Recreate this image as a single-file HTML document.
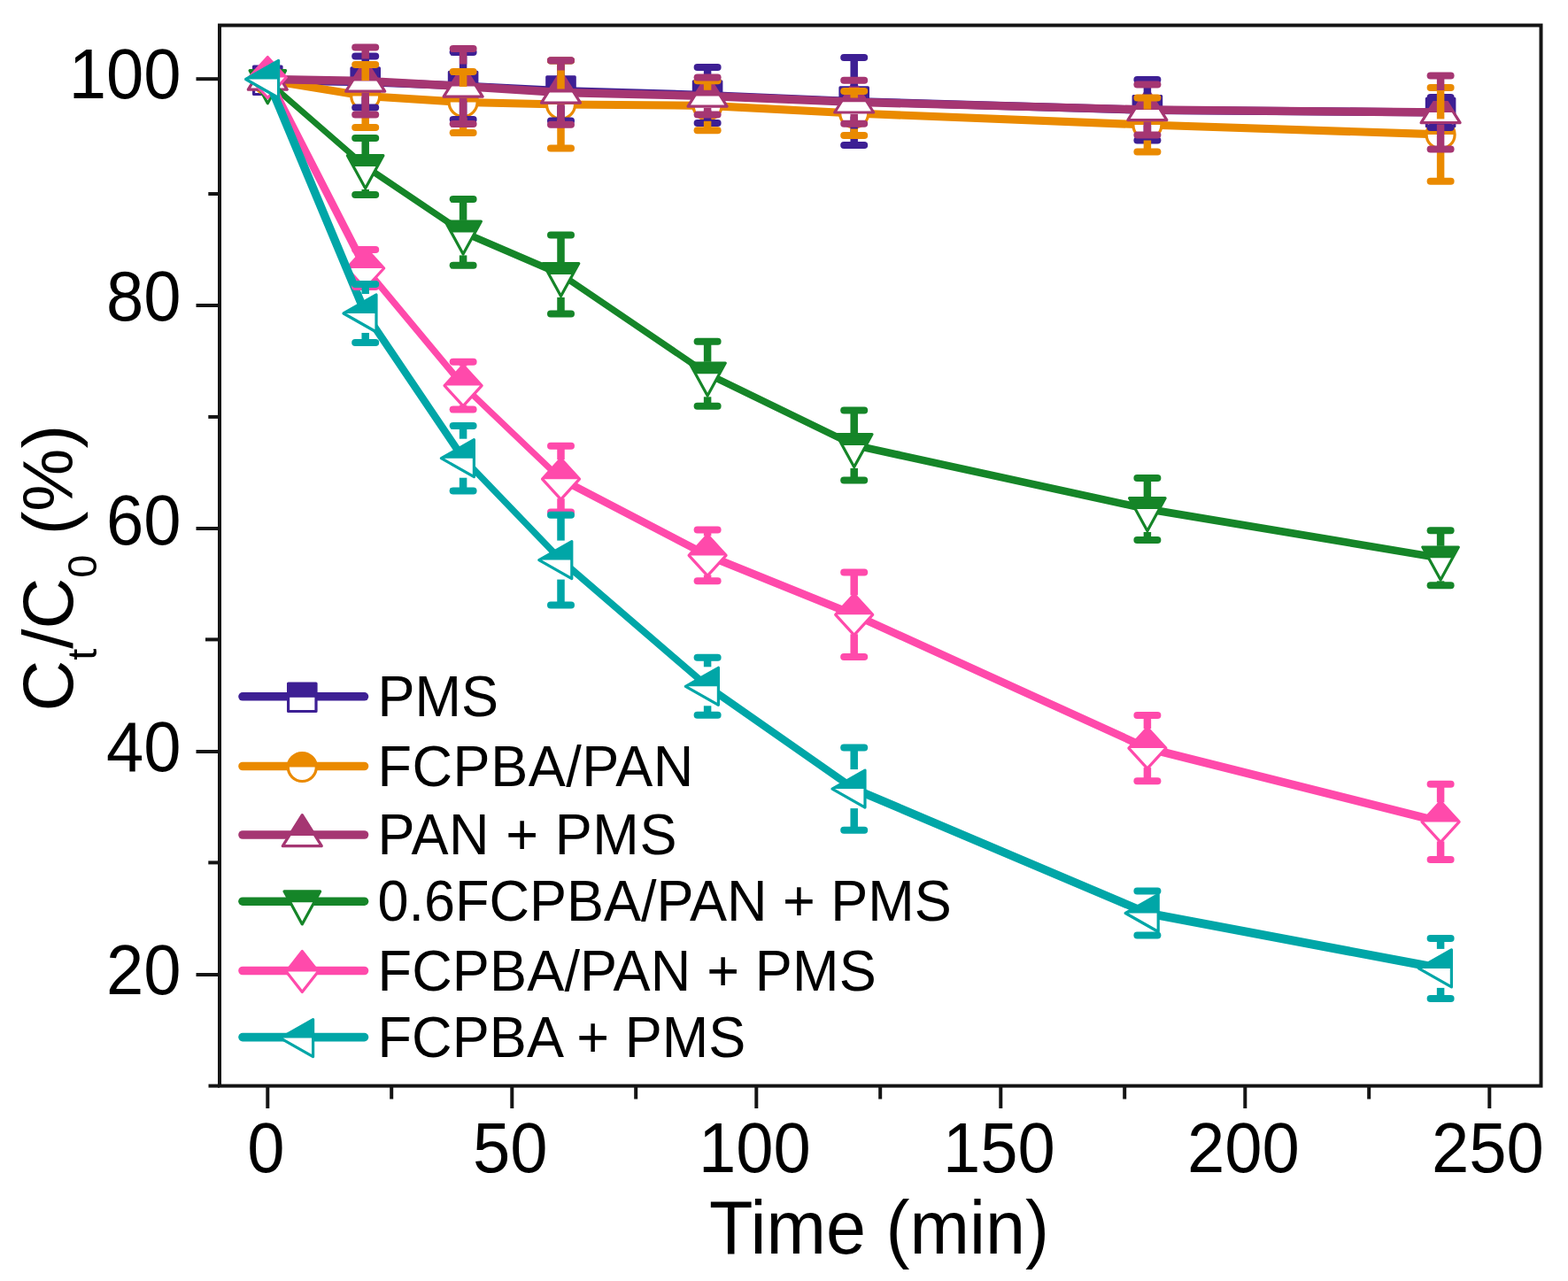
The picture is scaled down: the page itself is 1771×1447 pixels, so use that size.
<!DOCTYPE html>
<html><head><meta charset="utf-8"><title>Ct/C0 vs Time</title><style>html,body{margin:0;padding:0;background:#fff;width:1771px;height:1447px;overflow:hidden}svg{display:block}</style></head><body>
<svg width="1771" height="1447" viewBox="0 0 1771 1447" font-family="'Liberation Sans', Arial, sans-serif" fill="#000">
<rect width="1771" height="1447" fill="#fff"/>
<rect x="248.0" y="28.6" width="1492.5" height="1198.0" fill="none" stroke="#141414" stroke-width="4.0"/>
<line x1="221.5" y1="89.2" x2="248.0" y2="89.2" stroke="#141414" stroke-width="4.0"/>
<line x1="221.5" y1="345.0" x2="248.0" y2="345.0" stroke="#141414" stroke-width="4.0"/>
<line x1="221.5" y1="597.0" x2="248.0" y2="597.0" stroke="#141414" stroke-width="4.0"/>
<line x1="221.5" y1="849.0" x2="248.0" y2="849.0" stroke="#141414" stroke-width="4.0"/>
<line x1="221.5" y1="1101.0" x2="248.0" y2="1101.0" stroke="#141414" stroke-width="4.0"/>
<line x1="235.3" y1="219.0" x2="248.0" y2="219.0" stroke="#141414" stroke-width="4.0"/>
<line x1="235.3" y1="470.9" x2="248.0" y2="470.9" stroke="#141414" stroke-width="4.0"/>
<line x1="232.0" y1="722.4" x2="248.0" y2="722.4" stroke="#141414" stroke-width="4.0"/>
<line x1="235.3" y1="974.4" x2="248.0" y2="974.4" stroke="#141414" stroke-width="4.0"/>
<line x1="235.5" y1="1226.6" x2="248.0" y2="1226.6" stroke="#141414" stroke-width="4.0"/>
<line x1="302.3" y1="1226.6" x2="302.3" y2="1252" stroke="#141414" stroke-width="4.0"/>
<line x1="578.3" y1="1226.6" x2="578.3" y2="1252" stroke="#141414" stroke-width="4.0"/>
<line x1="854.3" y1="1226.6" x2="854.3" y2="1252" stroke="#141414" stroke-width="4.0"/>
<line x1="1130.3" y1="1226.6" x2="1130.3" y2="1252" stroke="#141414" stroke-width="4.0"/>
<line x1="1406.3" y1="1226.6" x2="1406.3" y2="1252" stroke="#141414" stroke-width="4.0"/>
<line x1="1682.3" y1="1226.6" x2="1682.3" y2="1252" stroke="#141414" stroke-width="4.0"/>
<line x1="442.2" y1="1226.6" x2="442.2" y2="1241.5" stroke="#141414" stroke-width="4.0"/>
<line x1="718.2" y1="1226.6" x2="718.2" y2="1241.5" stroke="#141414" stroke-width="4.0"/>
<line x1="994.2" y1="1226.6" x2="994.2" y2="1241.5" stroke="#141414" stroke-width="4.0"/>
<line x1="1270.2" y1="1226.6" x2="1270.2" y2="1241.5" stroke="#141414" stroke-width="4.0"/>
<line x1="1546.2" y1="1226.6" x2="1546.2" y2="1241.5" stroke="#141414" stroke-width="4.0"/>
<path d="M302.3,86.2 L412.7,88.0 L412.7,97.2 L302.3,95.4 Z M412.7,88.0 L523.1,92.4 L523.1,101.6 L412.7,97.2 Z M523.1,92.4 L633.5,97.9 L633.5,107.1 L523.1,101.6 Z M633.5,97.9 L799.1,102.9 L799.1,112.1 L633.5,107.1 Z M799.1,102.9 L964.7,110.0 L964.7,119.2 L799.1,112.1 Z M964.7,110.0 L1295.9,119.7 L1295.9,128.9 L964.7,119.2 Z M1295.9,119.7 L1627.1,122.4 L1627.1,131.6 L1295.9,128.9 Z" fill="#3d1f94"/>
<polygon points="286.6,75.1 318.0,75.1 318.0,106.5 286.6,106.5" fill="#fff"/><polygon points="286.6,75.1 318.0,75.1 318.0,90.8 286.6,90.8" fill="#3d1f94"/><polygon points="286.6,75.1 318.0,75.1 318.0,106.5 286.6,106.5" fill="none" stroke="#3d1f94" stroke-width="3.2" stroke-linejoin="round"/>
<polygon points="397.0,76.9 428.4,76.9 428.4,108.3 397.0,108.3" fill="#fff"/><polygon points="397.0,76.9 428.4,76.9 428.4,92.6 397.0,92.6" fill="#3d1f94"/><polygon points="397.0,76.9 428.4,76.9 428.4,108.3 397.0,108.3" fill="none" stroke="#3d1f94" stroke-width="3.2" stroke-linejoin="round"/>
<polygon points="507.4,81.3 538.8,81.3 538.8,112.7 507.4,112.7" fill="#fff"/><polygon points="507.4,81.3 538.8,81.3 538.8,97.0 507.4,97.0" fill="#3d1f94"/><polygon points="507.4,81.3 538.8,81.3 538.8,112.7 507.4,112.7" fill="none" stroke="#3d1f94" stroke-width="3.2" stroke-linejoin="round"/>
<polygon points="617.8,86.8 649.2,86.8 649.2,118.2 617.8,118.2" fill="#fff"/><polygon points="617.8,86.8 649.2,86.8 649.2,102.5 617.8,102.5" fill="#3d1f94"/><polygon points="617.8,86.8 649.2,86.8 649.2,118.2 617.8,118.2" fill="none" stroke="#3d1f94" stroke-width="3.2" stroke-linejoin="round"/>
<polygon points="783.4,91.8 814.8,91.8 814.8,123.2 783.4,123.2" fill="#fff"/><polygon points="783.4,91.8 814.8,91.8 814.8,107.5 783.4,107.5" fill="#3d1f94"/><polygon points="783.4,91.8 814.8,91.8 814.8,123.2 783.4,123.2" fill="none" stroke="#3d1f94" stroke-width="3.2" stroke-linejoin="round"/>
<polygon points="949.0,98.9 980.4,98.9 980.4,130.3 949.0,130.3" fill="#fff"/><polygon points="949.0,98.9 980.4,98.9 980.4,114.6 949.0,114.6" fill="#3d1f94"/><polygon points="949.0,98.9 980.4,98.9 980.4,130.3 949.0,130.3" fill="none" stroke="#3d1f94" stroke-width="3.2" stroke-linejoin="round"/>
<polygon points="1280.2,108.6 1311.6,108.6 1311.6,140.0 1280.2,140.0" fill="#fff"/><polygon points="1280.2,108.6 1311.6,108.6 1311.6,124.3 1280.2,124.3" fill="#3d1f94"/><polygon points="1280.2,108.6 1311.6,108.6 1311.6,140.0 1280.2,140.0" fill="none" stroke="#3d1f94" stroke-width="3.2" stroke-linejoin="round"/>
<polygon points="1611.4,111.3 1642.8,111.3 1642.8,142.7 1611.4,142.7" fill="#fff"/><polygon points="1611.4,111.3 1642.8,111.3 1642.8,127.0 1611.4,127.0" fill="#3d1f94"/><polygon points="1611.4,111.3 1642.8,111.3 1642.8,142.7 1611.4,142.7" fill="none" stroke="#3d1f94" stroke-width="3.2" stroke-linejoin="round"/>
<path d="M302.3,85.9 L412.7,103.9 L412.7,113.1 L302.3,95.1 Z M412.7,103.9 L523.1,110.9 L523.1,120.1 L412.7,113.1 Z M523.1,110.9 L633.5,113.4 L633.5,122.6 L523.1,120.1 Z M633.5,113.4 L799.1,114.7 L799.1,123.9 L633.5,122.6 Z M799.1,114.7 L964.7,123.4 L964.7,132.6 L799.1,123.9 Z M964.7,123.4 L1295.9,136.4 L1295.9,145.6 L964.7,132.6 Z M1295.9,136.4 L1627.1,147.3 L1627.1,156.5 L1295.9,145.6 Z" fill="#ea8a00"/>
<circle cx="302.3" cy="90.5" r="16" fill="#fff" stroke="none"/><path d="M286.0,90.5 A16,16 0 0 1 318.6,90.5 Z" fill="#ea8a00"/><circle cx="302.3" cy="90.5" r="16" fill="none" stroke="#ea8a00" stroke-width="3.2"/>
<circle cx="412.7" cy="108.5" r="16" fill="#fff" stroke="none"/><path d="M396.4,108.5 A16,16 0 0 1 429.0,108.5 Z" fill="#ea8a00"/><circle cx="412.7" cy="108.5" r="16" fill="none" stroke="#ea8a00" stroke-width="3.2"/>
<circle cx="523.1" cy="115.5" r="16" fill="#fff" stroke="none"/><path d="M506.8,115.5 A16,16 0 0 1 539.4,115.5 Z" fill="#ea8a00"/><circle cx="523.1" cy="115.5" r="16" fill="none" stroke="#ea8a00" stroke-width="3.2"/>
<circle cx="633.5" cy="118.0" r="16" fill="#fff" stroke="none"/><path d="M617.2,118.0 A16,16 0 0 1 649.8,118.0 Z" fill="#ea8a00"/><circle cx="633.5" cy="118.0" r="16" fill="none" stroke="#ea8a00" stroke-width="3.2"/>
<circle cx="799.1" cy="119.3" r="16" fill="#fff" stroke="none"/><path d="M782.8,119.3 A16,16 0 0 1 815.4,119.3 Z" fill="#ea8a00"/><circle cx="799.1" cy="119.3" r="16" fill="none" stroke="#ea8a00" stroke-width="3.2"/>
<circle cx="964.7" cy="128.0" r="16" fill="#fff" stroke="none"/><path d="M948.4,128.0 A16,16 0 0 1 981.0,128.0 Z" fill="#ea8a00"/><circle cx="964.7" cy="128.0" r="16" fill="none" stroke="#ea8a00" stroke-width="3.2"/>
<circle cx="1295.9" cy="141.0" r="16" fill="#fff" stroke="none"/><path d="M1279.6,141.0 A16,16 0 0 1 1312.2,141.0 Z" fill="#ea8a00"/><circle cx="1295.9" cy="141.0" r="16" fill="none" stroke="#ea8a00" stroke-width="3.2"/>
<circle cx="1627.1" cy="151.9" r="16" fill="#fff" stroke="none"/><path d="M1610.8,151.9 A16,16 0 0 1 1643.4,151.9 Z" fill="#ea8a00"/><circle cx="1627.1" cy="151.9" r="16" fill="none" stroke="#ea8a00" stroke-width="3.2"/>
<path d="M302.3,84.8 L412.7,86.8 L412.7,96.2 L302.3,94.2 Z M412.7,86.8 L523.1,92.8 L523.1,102.2 L412.7,96.2 Z M523.1,92.8 L633.5,99.8 L633.5,109.2 L523.1,102.2 Z M633.5,99.8 L799.1,103.8 L799.1,113.2 L633.5,109.2 Z M799.1,103.8 L964.7,110.6 L964.7,120.0 L799.1,113.2 Z M964.7,110.6 L1295.9,119.3 L1295.9,128.7 L964.7,120.0 Z M1295.9,119.3 L1627.1,122.3 L1627.1,131.7 L1295.9,128.7 Z" fill="#a53672"/>
<polygon points="302.3,66.2 324.3,101.2 280.3,101.2" fill="#fff"/><polygon points="302.3,66.2 317.0,89.5 287.6,89.5" fill="#a53672"/><polygon points="302.3,66.2 324.3,101.2 280.3,101.2" fill="none" stroke="#a53672" stroke-width="3.2" stroke-linejoin="round"/>
<polygon points="412.7,68.2 434.7,103.2 390.7,103.2" fill="#fff"/><polygon points="412.7,68.2 427.4,91.5 398.0,91.5" fill="#a53672"/><polygon points="412.7,68.2 434.7,103.2 390.7,103.2" fill="none" stroke="#a53672" stroke-width="3.2" stroke-linejoin="round"/>
<polygon points="523.1,74.2 545.1,109.2 501.1,109.2" fill="#fff"/><polygon points="523.1,74.2 537.8,97.5 508.4,97.5" fill="#a53672"/><polygon points="523.1,74.2 545.1,109.2 501.1,109.2" fill="none" stroke="#a53672" stroke-width="3.2" stroke-linejoin="round"/>
<polygon points="633.5,81.2 655.5,116.2 611.5,116.2" fill="#fff"/><polygon points="633.5,81.2 648.2,104.5 618.8,104.5" fill="#a53672"/><polygon points="633.5,81.2 655.5,116.2 611.5,116.2" fill="none" stroke="#a53672" stroke-width="3.2" stroke-linejoin="round"/>
<polygon points="799.1,85.2 821.1,120.2 777.1,120.2" fill="#fff"/><polygon points="799.1,85.2 813.8,108.5 784.4,108.5" fill="#a53672"/><polygon points="799.1,85.2 821.1,120.2 777.1,120.2" fill="none" stroke="#a53672" stroke-width="3.2" stroke-linejoin="round"/>
<polygon points="964.7,92.0 986.7,127.0 942.7,127.0" fill="#fff"/><polygon points="964.7,92.0 979.4,115.3 950.0,115.3" fill="#a53672"/><polygon points="964.7,92.0 986.7,127.0 942.7,127.0" fill="none" stroke="#a53672" stroke-width="3.2" stroke-linejoin="round"/>
<polygon points="1295.9,100.7 1317.9,135.7 1273.9,135.7" fill="#fff"/><polygon points="1295.9,100.7 1310.6,124.0 1281.2,124.0" fill="#a53672"/><polygon points="1295.9,100.7 1317.9,135.7 1273.9,135.7" fill="none" stroke="#a53672" stroke-width="3.2" stroke-linejoin="round"/>
<polygon points="1627.1,103.7 1649.1,138.7 1605.1,138.7" fill="#fff"/><polygon points="1627.1,103.7 1641.8,127.0 1612.4,127.0" fill="#a53672"/><polygon points="1627.1,103.7 1649.1,138.7 1605.1,138.7" fill="none" stroke="#a53672" stroke-width="3.2" stroke-linejoin="round"/>
<path d="M302.3,87.6 L412.7,183.6 L412.7,192.4 L302.3,96.4 Z M412.7,183.6 L523.1,258.0 L523.1,266.8 L412.7,192.4 Z M523.1,258.0 L633.5,305.5 L633.5,314.3 L523.1,266.8 Z M633.5,305.5 L799.1,417.9 L799.1,426.7 L633.5,314.3 Z M799.1,417.9 L964.7,498.5 L964.7,507.3 L799.1,426.7 Z M964.7,498.5 L1295.9,570.6 L1295.9,579.4 L964.7,507.3 Z M1295.9,570.6 L1627.1,625.9 L1627.1,634.7 L1295.9,579.4 Z" fill="#158528"/>
<polygon points="282.1,79.7 322.6,79.7 302.3,116.7" fill="#fff"/><polygon points="282.1,79.7 322.6,79.7 315.8,92.0 288.8,92.0" fill="#158528"/><polygon points="282.1,79.7 322.6,79.7 302.3,116.7" fill="none" stroke="#158528" stroke-width="3.2" stroke-linejoin="round"/>
<polygon points="392.4,175.7 432.9,175.7 412.7,212.7" fill="#fff"/><polygon points="392.4,175.7 432.9,175.7 426.2,188.0 399.2,188.0" fill="#158528"/><polygon points="392.4,175.7 432.9,175.7 412.7,212.7" fill="none" stroke="#158528" stroke-width="3.2" stroke-linejoin="round"/>
<polygon points="502.9,250.1 543.4,250.1 523.1,287.1" fill="#fff"/><polygon points="502.9,250.1 543.4,250.1 536.6,262.4 509.6,262.4" fill="#158528"/><polygon points="502.9,250.1 543.4,250.1 523.1,287.1" fill="none" stroke="#158528" stroke-width="3.2" stroke-linejoin="round"/>
<polygon points="613.2,297.6 653.8,297.6 633.5,334.6" fill="#fff"/><polygon points="613.2,297.6 653.8,297.6 647.0,309.9 620.0,309.9" fill="#158528"/><polygon points="613.2,297.6 653.8,297.6 633.5,334.6" fill="none" stroke="#158528" stroke-width="3.2" stroke-linejoin="round"/>
<polygon points="778.8,410.0 819.3,410.0 799.1,447.0" fill="#fff"/><polygon points="778.8,410.0 819.3,410.0 812.6,422.3 785.6,422.3" fill="#158528"/><polygon points="778.8,410.0 819.3,410.0 799.1,447.0" fill="none" stroke="#158528" stroke-width="3.2" stroke-linejoin="round"/>
<polygon points="944.5,490.6 985.0,490.6 964.7,527.6" fill="#fff"/><polygon points="944.5,490.6 985.0,490.6 978.2,502.9 951.2,502.9" fill="#158528"/><polygon points="944.5,490.6 985.0,490.6 964.7,527.6" fill="none" stroke="#158528" stroke-width="3.2" stroke-linejoin="round"/>
<polygon points="1275.6,562.7 1316.1,562.7 1295.9,599.7" fill="#fff"/><polygon points="1275.6,562.7 1316.1,562.7 1309.4,575.0 1282.4,575.0" fill="#158528"/><polygon points="1275.6,562.7 1316.1,562.7 1295.9,599.7" fill="none" stroke="#158528" stroke-width="3.2" stroke-linejoin="round"/>
<polygon points="1606.8,618.0 1647.3,618.0 1627.1,655.0" fill="#fff"/><polygon points="1606.8,618.0 1647.3,618.0 1640.6,630.3 1613.6,630.3" fill="#158528"/><polygon points="1606.8,618.0 1647.3,618.0 1627.1,655.0" fill="none" stroke="#158528" stroke-width="3.2" stroke-linejoin="round"/>
<path d="M297.4,87.5 L407.8,303.0 L417.6,303.0 L307.2,87.5 Z M407.8,303.0 L518.2,435.6 L528.0,435.6 L417.6,303.0 Z M523.1,430.7 L633.5,536.3 L633.5,546.1 L523.1,440.5 Z M633.5,536.3 L799.1,622.5 L799.1,632.3 L633.5,546.1 Z M799.1,622.5 L964.7,689.4 L964.7,699.2 L799.1,632.3 Z M964.7,689.4 L1295.9,840.2 L1295.9,850.0 L964.7,699.2 Z M1295.9,840.2 L1627.1,923.5 L1627.1,933.3 L1295.9,850.0 Z" fill="#ff4aab"/>
<polygon points="302.3,64.5 323.3,87.5 302.3,110.5 281.3,87.5" fill="#fff"/><polygon points="302.3,64.5 323.3,87.5 323.3,87.5 281.3,87.5 281.3,87.5" fill="#ff4aab"/><polygon points="302.3,64.5 323.3,87.5 302.3,110.5 281.3,87.5" fill="none" stroke="#ff4aab" stroke-width="3.2" stroke-linejoin="round"/>
<polygon points="412.7,280.0 433.7,303.0 412.7,326.0 391.7,303.0" fill="#fff"/><polygon points="412.7,280.0 433.7,303.0 433.7,303.0 391.7,303.0 391.7,303.0" fill="#ff4aab"/><polygon points="412.7,280.0 433.7,303.0 412.7,326.0 391.7,303.0" fill="none" stroke="#ff4aab" stroke-width="3.2" stroke-linejoin="round"/>
<polygon points="523.1,412.6 544.1,435.6 523.1,458.6 502.1,435.6" fill="#fff"/><polygon points="523.1,412.6 544.1,435.6 544.1,435.6 502.1,435.6 502.1,435.6" fill="#ff4aab"/><polygon points="523.1,412.6 544.1,435.6 523.1,458.6 502.1,435.6" fill="none" stroke="#ff4aab" stroke-width="3.2" stroke-linejoin="round"/>
<polygon points="633.5,518.2 654.5,541.2 633.5,564.2 612.5,541.2" fill="#fff"/><polygon points="633.5,518.2 654.5,541.2 654.5,541.2 612.5,541.2 612.5,541.2" fill="#ff4aab"/><polygon points="633.5,518.2 654.5,541.2 633.5,564.2 612.5,541.2" fill="none" stroke="#ff4aab" stroke-width="3.2" stroke-linejoin="round"/>
<polygon points="799.1,604.4 820.1,627.4 799.1,650.4 778.1,627.4" fill="#fff"/><polygon points="799.1,604.4 820.1,627.4 820.1,627.4 778.1,627.4 778.1,627.4" fill="#ff4aab"/><polygon points="799.1,604.4 820.1,627.4 799.1,650.4 778.1,627.4" fill="none" stroke="#ff4aab" stroke-width="3.2" stroke-linejoin="round"/>
<polygon points="964.7,671.3 985.7,694.3 964.7,717.3 943.7,694.3" fill="#fff"/><polygon points="964.7,671.3 985.7,694.3 985.7,694.3 943.7,694.3 943.7,694.3" fill="#ff4aab"/><polygon points="964.7,671.3 985.7,694.3 964.7,717.3 943.7,694.3" fill="none" stroke="#ff4aab" stroke-width="3.2" stroke-linejoin="round"/>
<polygon points="1295.9,822.1 1316.9,845.1 1295.9,868.1 1274.9,845.1" fill="#fff"/><polygon points="1295.9,822.1 1316.9,845.1 1316.9,845.1 1274.9,845.1 1274.9,845.1" fill="#ff4aab"/><polygon points="1295.9,822.1 1316.9,845.1 1295.9,868.1 1274.9,845.1" fill="none" stroke="#ff4aab" stroke-width="3.2" stroke-linejoin="round"/>
<polygon points="1627.1,905.4 1648.1,928.4 1627.1,951.4 1606.1,928.4" fill="#fff"/><polygon points="1627.1,905.4 1648.1,928.4 1648.1,928.4 1606.1,928.4 1606.1,928.4" fill="#ff4aab"/><polygon points="1627.1,905.4 1648.1,928.4 1627.1,951.4 1606.1,928.4" fill="none" stroke="#ff4aab" stroke-width="3.2" stroke-linejoin="round"/>
<path d="M297.2,89.5 L407.6,354.0 L417.8,354.0 L307.4,89.5 Z M407.6,354.0 L518.0,517.7 L528.2,517.7 L417.8,354.0 Z M518.0,517.7 L628.4,632.6 L638.6,632.6 L528.2,517.7 Z M633.5,627.5 L799.1,770.2 L799.1,780.4 L633.5,637.7 Z M799.1,770.2 L964.7,886.0 L964.7,896.2 L799.1,780.4 Z M964.7,886.0 L1295.9,1026.4 L1295.9,1036.6 L964.7,896.2 Z M1295.9,1026.4 L1627.1,1088.8 L1627.1,1099.0 L1295.9,1036.6 Z" fill="#00a6a7"/>
<polygon points="277.6,89.5 314.6,68.5 314.6,110.5" fill="#fff"/><polygon points="277.6,89.5 314.6,68.5 314.6,89.5 277.6,89.5" fill="#00a6a7"/><polygon points="277.6,89.5 314.6,68.5 314.6,110.5" fill="none" stroke="#00a6a7" stroke-width="3.2" stroke-linejoin="round"/>
<polygon points="388.0,354.0 425.0,333.0 425.0,375.0" fill="#fff"/><polygon points="388.0,354.0 425.0,333.0 425.0,354.0 388.0,354.0" fill="#00a6a7"/><polygon points="388.0,354.0 425.0,333.0 425.0,375.0" fill="none" stroke="#00a6a7" stroke-width="3.2" stroke-linejoin="round"/>
<polygon points="498.4,517.7 535.4,496.7 535.4,538.7" fill="#fff"/><polygon points="498.4,517.7 535.4,496.7 535.4,517.7 498.4,517.7" fill="#00a6a7"/><polygon points="498.4,517.7 535.4,496.7 535.4,538.7" fill="none" stroke="#00a6a7" stroke-width="3.2" stroke-linejoin="round"/>
<polygon points="608.8,632.6 645.8,611.6 645.8,653.6" fill="#fff"/><polygon points="608.8,632.6 645.8,611.6 645.8,632.6 608.8,632.6" fill="#00a6a7"/><polygon points="608.8,632.6 645.8,611.6 645.8,653.6" fill="none" stroke="#00a6a7" stroke-width="3.2" stroke-linejoin="round"/>
<polygon points="774.4,775.3 811.4,754.3 811.4,796.3" fill="#fff"/><polygon points="774.4,775.3 811.4,754.3 811.4,775.3 774.4,775.3" fill="#00a6a7"/><polygon points="774.4,775.3 811.4,754.3 811.4,796.3" fill="none" stroke="#00a6a7" stroke-width="3.2" stroke-linejoin="round"/>
<polygon points="940.0,891.1 977.0,870.1 977.0,912.1" fill="#fff"/><polygon points="940.0,891.1 977.0,870.1 977.0,891.1 940.0,891.1" fill="#00a6a7"/><polygon points="940.0,891.1 977.0,870.1 977.0,912.1" fill="none" stroke="#00a6a7" stroke-width="3.2" stroke-linejoin="round"/>
<polygon points="1271.2,1031.5 1308.2,1010.5 1308.2,1052.5" fill="#fff"/><polygon points="1271.2,1031.5 1308.2,1010.5 1308.2,1031.5 1271.2,1031.5" fill="#00a6a7"/><polygon points="1271.2,1031.5 1308.2,1010.5 1308.2,1052.5" fill="none" stroke="#00a6a7" stroke-width="3.2" stroke-linejoin="round"/>
<polygon points="1602.4,1093.9 1639.4,1072.9 1639.4,1114.9" fill="#fff"/><polygon points="1602.4,1093.9 1639.4,1072.9 1639.4,1093.9 1602.4,1093.9" fill="#00a6a7"/><polygon points="1602.4,1093.9 1639.4,1072.9 1639.4,1114.9" fill="none" stroke="#00a6a7" stroke-width="3.2" stroke-linejoin="round"/>

<line x1="412.7" y1="63.6" x2="412.7" y2="75.6" stroke="#3d1f94" stroke-width="8.5"/><line x1="412.7" y1="109.6" x2="412.7" y2="121.6" stroke="#3d1f94" stroke-width="8.5"/><line x1="401.2" y1="63.6" x2="424.2" y2="63.6" stroke="#3d1f94" stroke-width="8.0" stroke-linecap="round"/><line x1="401.2" y1="121.6" x2="424.2" y2="121.6" stroke="#3d1f94" stroke-width="8.0" stroke-linecap="round"/>
<line x1="523.1" y1="59.0" x2="523.1" y2="80.0" stroke="#3d1f94" stroke-width="8.5"/><line x1="523.1" y1="114.0" x2="523.1" y2="135.0" stroke="#3d1f94" stroke-width="8.5"/><line x1="511.6" y1="59.0" x2="534.6" y2="59.0" stroke="#3d1f94" stroke-width="8.0" stroke-linecap="round"/><line x1="511.6" y1="135.0" x2="534.6" y2="135.0" stroke="#3d1f94" stroke-width="8.0" stroke-linecap="round"/>
<line x1="633.5" y1="68.5" x2="633.5" y2="85.5" stroke="#3d1f94" stroke-width="8.5"/><line x1="633.5" y1="119.5" x2="633.5" y2="136.5" stroke="#3d1f94" stroke-width="8.5"/><line x1="622.0" y1="68.5" x2="645.0" y2="68.5" stroke="#3d1f94" stroke-width="8.0" stroke-linecap="round"/><line x1="622.0" y1="136.5" x2="645.0" y2="136.5" stroke="#3d1f94" stroke-width="8.0" stroke-linecap="round"/>
<line x1="799.1" y1="76.0" x2="799.1" y2="90.5" stroke="#3d1f94" stroke-width="8.5"/><line x1="799.1" y1="124.5" x2="799.1" y2="139.0" stroke="#3d1f94" stroke-width="8.5"/><line x1="787.6" y1="76.0" x2="810.6" y2="76.0" stroke="#3d1f94" stroke-width="8.0" stroke-linecap="round"/><line x1="787.6" y1="139.0" x2="810.6" y2="139.0" stroke="#3d1f94" stroke-width="8.0" stroke-linecap="round"/>
<line x1="964.7" y1="65.1" x2="964.7" y2="97.6" stroke="#3d1f94" stroke-width="8.5"/><line x1="964.7" y1="131.6" x2="964.7" y2="164.1" stroke="#3d1f94" stroke-width="8.5"/><line x1="953.2" y1="65.1" x2="976.2" y2="65.1" stroke="#3d1f94" stroke-width="8.0" stroke-linecap="round"/><line x1="953.2" y1="164.1" x2="976.2" y2="164.1" stroke="#3d1f94" stroke-width="8.0" stroke-linecap="round"/>
<line x1="1295.9" y1="90.0" x2="1295.9" y2="107.3" stroke="#3d1f94" stroke-width="8.5"/><line x1="1295.9" y1="141.3" x2="1295.9" y2="158.6" stroke="#3d1f94" stroke-width="8.5"/><line x1="1284.4" y1="90.0" x2="1307.4" y2="90.0" stroke="#3d1f94" stroke-width="8.0" stroke-linecap="round"/><line x1="1284.4" y1="158.6" x2="1307.4" y2="158.6" stroke="#3d1f94" stroke-width="8.0" stroke-linecap="round"/>
<line x1="1615.6" y1="110.0" x2="1638.6" y2="110.0" stroke="#3d1f94" stroke-width="8.0" stroke-linecap="round"/><line x1="1615.6" y1="144.0" x2="1638.6" y2="144.0" stroke="#3d1f94" stroke-width="8.0" stroke-linecap="round"/>

<line x1="412.7" y1="73.0" x2="412.7" y2="91.0" stroke="#ea8a00" stroke-width="8.5"/><line x1="412.7" y1="126.0" x2="412.7" y2="144.0" stroke="#ea8a00" stroke-width="8.5"/><line x1="401.2" y1="73.0" x2="424.2" y2="73.0" stroke="#ea8a00" stroke-width="8.0" stroke-linecap="round"/><line x1="401.2" y1="144.0" x2="424.2" y2="144.0" stroke="#ea8a00" stroke-width="8.0" stroke-linecap="round"/>
<line x1="523.1" y1="81.0" x2="523.1" y2="98.0" stroke="#ea8a00" stroke-width="8.5"/><line x1="523.1" y1="133.0" x2="523.1" y2="150.0" stroke="#ea8a00" stroke-width="8.5"/><line x1="511.6" y1="81.0" x2="534.6" y2="81.0" stroke="#ea8a00" stroke-width="8.0" stroke-linecap="round"/><line x1="511.6" y1="150.0" x2="534.6" y2="150.0" stroke="#ea8a00" stroke-width="8.0" stroke-linecap="round"/>
<line x1="633.5" y1="68.4" x2="633.5" y2="100.5" stroke="#ea8a00" stroke-width="8.5"/><line x1="633.5" y1="135.5" x2="633.5" y2="167.6" stroke="#ea8a00" stroke-width="8.5"/><line x1="622.0" y1="68.4" x2="645.0" y2="68.4" stroke="#ea8a00" stroke-width="8.0" stroke-linecap="round"/><line x1="622.0" y1="167.6" x2="645.0" y2="167.6" stroke="#ea8a00" stroke-width="8.0" stroke-linecap="round"/>
<line x1="799.1" y1="91.3" x2="799.1" y2="101.8" stroke="#ea8a00" stroke-width="8.5"/><line x1="799.1" y1="136.8" x2="799.1" y2="147.3" stroke="#ea8a00" stroke-width="8.5"/><line x1="787.6" y1="91.3" x2="810.6" y2="91.3" stroke="#ea8a00" stroke-width="8.0" stroke-linecap="round"/><line x1="787.6" y1="147.3" x2="810.6" y2="147.3" stroke="#ea8a00" stroke-width="8.0" stroke-linecap="round"/>
<line x1="964.7" y1="103.0" x2="964.7" y2="110.5" stroke="#ea8a00" stroke-width="8.5"/><line x1="964.7" y1="145.5" x2="964.7" y2="153.0" stroke="#ea8a00" stroke-width="8.5"/><line x1="953.2" y1="103.0" x2="976.2" y2="103.0" stroke="#ea8a00" stroke-width="8.0" stroke-linecap="round"/><line x1="953.2" y1="153.0" x2="976.2" y2="153.0" stroke="#ea8a00" stroke-width="8.0" stroke-linecap="round"/>
<line x1="1295.9" y1="110.5" x2="1295.9" y2="123.5" stroke="#ea8a00" stroke-width="8.5"/><line x1="1295.9" y1="158.5" x2="1295.9" y2="171.5" stroke="#ea8a00" stroke-width="8.5"/><line x1="1284.4" y1="110.5" x2="1307.4" y2="110.5" stroke="#ea8a00" stroke-width="8.0" stroke-linecap="round"/><line x1="1284.4" y1="171.5" x2="1307.4" y2="171.5" stroke="#ea8a00" stroke-width="8.0" stroke-linecap="round"/>
<line x1="1627.1" y1="99.0" x2="1627.1" y2="134.4" stroke="#ea8a00" stroke-width="8.5"/><line x1="1627.1" y1="169.4" x2="1627.1" y2="204.8" stroke="#ea8a00" stroke-width="8.5"/><line x1="1615.6" y1="99.0" x2="1638.6" y2="99.0" stroke="#ea8a00" stroke-width="8.0" stroke-linecap="round"/><line x1="1615.6" y1="204.8" x2="1638.6" y2="204.8" stroke="#ea8a00" stroke-width="8.0" stroke-linecap="round"/>

<line x1="412.7" y1="53.5" x2="412.7" y2="66.5" stroke="#a53672" stroke-width="8.5"/><line x1="412.7" y1="105.0" x2="412.7" y2="129.5" stroke="#a53672" stroke-width="8.5"/><line x1="401.2" y1="53.5" x2="424.2" y2="53.5" stroke="#a53672" stroke-width="8.0" stroke-linecap="round"/><line x1="401.2" y1="129.5" x2="424.2" y2="129.5" stroke="#a53672" stroke-width="8.0" stroke-linecap="round"/>
<line x1="523.1" y1="55.0" x2="523.1" y2="72.5" stroke="#a53672" stroke-width="8.5"/><line x1="523.1" y1="111.0" x2="523.1" y2="140.0" stroke="#a53672" stroke-width="8.5"/><line x1="511.6" y1="55.0" x2="534.6" y2="55.0" stroke="#a53672" stroke-width="8.0" stroke-linecap="round"/><line x1="511.6" y1="140.0" x2="534.6" y2="140.0" stroke="#a53672" stroke-width="8.0" stroke-linecap="round"/>
<line x1="633.5" y1="68.2" x2="633.5" y2="79.5" stroke="#a53672" stroke-width="8.5"/><line x1="633.5" y1="118.0" x2="633.5" y2="140.8" stroke="#a53672" stroke-width="8.5"/><line x1="622.0" y1="68.2" x2="645.0" y2="68.2" stroke="#a53672" stroke-width="8.0" stroke-linecap="round"/><line x1="622.0" y1="140.8" x2="645.0" y2="140.8" stroke="#a53672" stroke-width="8.0" stroke-linecap="round"/>
<line x1="799.1" y1="122.0" x2="799.1" y2="129.5" stroke="#a53672" stroke-width="8.5"/><line x1="787.6" y1="87.5" x2="810.6" y2="87.5" stroke="#a53672" stroke-width="8.0" stroke-linecap="round"/><line x1="787.6" y1="129.5" x2="810.6" y2="129.5" stroke="#a53672" stroke-width="8.0" stroke-linecap="round"/>
<line x1="964.7" y1="128.8" x2="964.7" y2="139.8" stroke="#a53672" stroke-width="8.5"/><line x1="953.2" y1="90.8" x2="976.2" y2="90.8" stroke="#a53672" stroke-width="8.0" stroke-linecap="round"/><line x1="953.2" y1="139.8" x2="976.2" y2="139.8" stroke="#a53672" stroke-width="8.0" stroke-linecap="round"/>
<line x1="1295.9" y1="95.5" x2="1295.9" y2="99.0" stroke="#a53672" stroke-width="8.5"/><line x1="1295.9" y1="137.5" x2="1295.9" y2="152.5" stroke="#a53672" stroke-width="8.5"/><line x1="1284.4" y1="95.5" x2="1307.4" y2="95.5" stroke="#a53672" stroke-width="8.0" stroke-linecap="round"/><line x1="1284.4" y1="152.5" x2="1307.4" y2="152.5" stroke="#a53672" stroke-width="8.0" stroke-linecap="round"/>
<line x1="1627.1" y1="85.5" x2="1627.1" y2="102.0" stroke="#a53672" stroke-width="8.5"/><line x1="1627.1" y1="140.5" x2="1627.1" y2="168.5" stroke="#a53672" stroke-width="8.5"/><line x1="1615.6" y1="85.5" x2="1638.6" y2="85.5" stroke="#a53672" stroke-width="8.0" stroke-linecap="round"/><line x1="1615.6" y1="168.5" x2="1638.6" y2="168.5" stroke="#a53672" stroke-width="8.0" stroke-linecap="round"/>

<line x1="412.7" y1="156.0" x2="412.7" y2="174.5" stroke="#158528" stroke-width="8.5"/><line x1="412.7" y1="214.0" x2="412.7" y2="220.0" stroke="#158528" stroke-width="8.5"/><line x1="401.2" y1="156.0" x2="424.2" y2="156.0" stroke="#158528" stroke-width="8.0" stroke-linecap="round"/><line x1="401.2" y1="220.0" x2="424.2" y2="220.0" stroke="#158528" stroke-width="8.0" stroke-linecap="round"/>
<line x1="523.1" y1="225.0" x2="523.1" y2="248.9" stroke="#158528" stroke-width="8.5"/><line x1="523.1" y1="288.4" x2="523.1" y2="299.8" stroke="#158528" stroke-width="8.5"/><line x1="511.6" y1="225.0" x2="534.6" y2="225.0" stroke="#158528" stroke-width="8.0" stroke-linecap="round"/><line x1="511.6" y1="299.8" x2="534.6" y2="299.8" stroke="#158528" stroke-width="8.0" stroke-linecap="round"/>
<line x1="633.5" y1="265.4" x2="633.5" y2="296.4" stroke="#158528" stroke-width="8.5"/><line x1="633.5" y1="335.9" x2="633.5" y2="354.4" stroke="#158528" stroke-width="8.5"/><line x1="622.0" y1="265.4" x2="645.0" y2="265.4" stroke="#158528" stroke-width="8.0" stroke-linecap="round"/><line x1="622.0" y1="354.4" x2="645.0" y2="354.4" stroke="#158528" stroke-width="8.0" stroke-linecap="round"/>
<line x1="799.1" y1="385.8" x2="799.1" y2="408.8" stroke="#158528" stroke-width="8.5"/><line x1="799.1" y1="448.3" x2="799.1" y2="458.8" stroke="#158528" stroke-width="8.5"/><line x1="787.6" y1="385.8" x2="810.6" y2="385.8" stroke="#158528" stroke-width="8.0" stroke-linecap="round"/><line x1="787.6" y1="458.8" x2="810.6" y2="458.8" stroke="#158528" stroke-width="8.0" stroke-linecap="round"/>
<line x1="964.7" y1="463.4" x2="964.7" y2="489.4" stroke="#158528" stroke-width="8.5"/><line x1="964.7" y1="528.9" x2="964.7" y2="542.4" stroke="#158528" stroke-width="8.5"/><line x1="953.2" y1="463.4" x2="976.2" y2="463.4" stroke="#158528" stroke-width="8.0" stroke-linecap="round"/><line x1="953.2" y1="542.4" x2="976.2" y2="542.4" stroke="#158528" stroke-width="8.0" stroke-linecap="round"/>
<line x1="1295.9" y1="540.0" x2="1295.9" y2="561.5" stroke="#158528" stroke-width="8.5"/><line x1="1295.9" y1="601.0" x2="1295.9" y2="610.0" stroke="#158528" stroke-width="8.5"/><line x1="1284.4" y1="540.0" x2="1307.4" y2="540.0" stroke="#158528" stroke-width="8.0" stroke-linecap="round"/><line x1="1284.4" y1="610.0" x2="1307.4" y2="610.0" stroke="#158528" stroke-width="8.0" stroke-linecap="round"/>
<line x1="1627.1" y1="599.3" x2="1627.1" y2="616.8" stroke="#158528" stroke-width="8.5"/><line x1="1627.1" y1="656.3" x2="1627.1" y2="661.3" stroke="#158528" stroke-width="8.5"/><line x1="1615.6" y1="599.3" x2="1638.6" y2="599.3" stroke="#158528" stroke-width="8.0" stroke-linecap="round"/><line x1="1615.6" y1="661.3" x2="1638.6" y2="661.3" stroke="#158528" stroke-width="8.0" stroke-linecap="round"/>

<line x1="401.2" y1="282.0" x2="424.2" y2="282.0" stroke="#ff4aab" stroke-width="8.0" stroke-linecap="round"/><line x1="401.2" y1="324.0" x2="424.2" y2="324.0" stroke="#ff4aab" stroke-width="8.0" stroke-linecap="round"/>
<line x1="523.1" y1="408.7" x2="523.1" y2="413.6" stroke="#ff4aab" stroke-width="8.5"/><line x1="523.1" y1="457.6" x2="523.1" y2="462.5" stroke="#ff4aab" stroke-width="8.5"/><line x1="511.6" y1="408.7" x2="534.6" y2="408.7" stroke="#ff4aab" stroke-width="8.0" stroke-linecap="round"/><line x1="511.6" y1="462.5" x2="534.6" y2="462.5" stroke="#ff4aab" stroke-width="8.0" stroke-linecap="round"/>
<line x1="633.5" y1="503.8" x2="633.5" y2="519.2" stroke="#ff4aab" stroke-width="8.5"/><line x1="633.5" y1="563.2" x2="633.5" y2="578.6" stroke="#ff4aab" stroke-width="8.5"/><line x1="622.0" y1="503.8" x2="645.0" y2="503.8" stroke="#ff4aab" stroke-width="8.0" stroke-linecap="round"/><line x1="622.0" y1="578.6" x2="645.0" y2="578.6" stroke="#ff4aab" stroke-width="8.0" stroke-linecap="round"/>
<line x1="799.1" y1="598.5" x2="799.1" y2="605.4" stroke="#ff4aab" stroke-width="8.5"/><line x1="799.1" y1="649.4" x2="799.1" y2="656.3" stroke="#ff4aab" stroke-width="8.5"/><line x1="787.6" y1="598.5" x2="810.6" y2="598.5" stroke="#ff4aab" stroke-width="8.0" stroke-linecap="round"/><line x1="787.6" y1="656.3" x2="810.6" y2="656.3" stroke="#ff4aab" stroke-width="8.0" stroke-linecap="round"/>
<line x1="964.7" y1="646.6" x2="964.7" y2="672.3" stroke="#ff4aab" stroke-width="8.5"/><line x1="964.7" y1="716.3" x2="964.7" y2="742.0" stroke="#ff4aab" stroke-width="8.5"/><line x1="953.2" y1="646.6" x2="976.2" y2="646.6" stroke="#ff4aab" stroke-width="8.0" stroke-linecap="round"/><line x1="953.2" y1="742.0" x2="976.2" y2="742.0" stroke="#ff4aab" stroke-width="8.0" stroke-linecap="round"/>
<line x1="1295.9" y1="808.0" x2="1295.9" y2="823.1" stroke="#ff4aab" stroke-width="8.5"/><line x1="1295.9" y1="867.1" x2="1295.9" y2="882.2" stroke="#ff4aab" stroke-width="8.5"/><line x1="1284.4" y1="808.0" x2="1307.4" y2="808.0" stroke="#ff4aab" stroke-width="8.0" stroke-linecap="round"/><line x1="1284.4" y1="882.2" x2="1307.4" y2="882.2" stroke="#ff4aab" stroke-width="8.0" stroke-linecap="round"/>
<line x1="1627.1" y1="885.8" x2="1627.1" y2="906.4" stroke="#ff4aab" stroke-width="8.5"/><line x1="1627.1" y1="950.4" x2="1627.1" y2="971.0" stroke="#ff4aab" stroke-width="8.5"/><line x1="1615.6" y1="885.8" x2="1638.6" y2="885.8" stroke="#ff4aab" stroke-width="8.0" stroke-linecap="round"/><line x1="1615.6" y1="971.0" x2="1638.6" y2="971.0" stroke="#ff4aab" stroke-width="8.0" stroke-linecap="round"/>

<line x1="412.7" y1="321.0" x2="412.7" y2="332.0" stroke="#00a6a7" stroke-width="8.5"/><line x1="412.7" y1="376.0" x2="412.7" y2="387.0" stroke="#00a6a7" stroke-width="8.5"/><line x1="401.2" y1="321.0" x2="424.2" y2="321.0" stroke="#00a6a7" stroke-width="8.0" stroke-linecap="round"/><line x1="401.2" y1="387.0" x2="424.2" y2="387.0" stroke="#00a6a7" stroke-width="8.0" stroke-linecap="round"/>
<line x1="523.1" y1="481.0" x2="523.1" y2="495.7" stroke="#00a6a7" stroke-width="8.5"/><line x1="523.1" y1="539.7" x2="523.1" y2="554.4" stroke="#00a6a7" stroke-width="8.5"/><line x1="511.6" y1="481.0" x2="534.6" y2="481.0" stroke="#00a6a7" stroke-width="8.0" stroke-linecap="round"/><line x1="511.6" y1="554.4" x2="534.6" y2="554.4" stroke="#00a6a7" stroke-width="8.0" stroke-linecap="round"/>
<line x1="633.5" y1="581.7" x2="633.5" y2="610.6" stroke="#00a6a7" stroke-width="8.5"/><line x1="633.5" y1="654.6" x2="633.5" y2="683.5" stroke="#00a6a7" stroke-width="8.5"/><line x1="622.0" y1="581.7" x2="645.0" y2="581.7" stroke="#00a6a7" stroke-width="8.0" stroke-linecap="round"/><line x1="622.0" y1="683.5" x2="645.0" y2="683.5" stroke="#00a6a7" stroke-width="8.0" stroke-linecap="round"/>
<line x1="799.1" y1="742.8" x2="799.1" y2="753.3" stroke="#00a6a7" stroke-width="8.5"/><line x1="799.1" y1="797.3" x2="799.1" y2="807.8" stroke="#00a6a7" stroke-width="8.5"/><line x1="787.6" y1="742.8" x2="810.6" y2="742.8" stroke="#00a6a7" stroke-width="8.0" stroke-linecap="round"/><line x1="787.6" y1="807.8" x2="810.6" y2="807.8" stroke="#00a6a7" stroke-width="8.0" stroke-linecap="round"/>
<line x1="964.7" y1="844.4" x2="964.7" y2="869.1" stroke="#00a6a7" stroke-width="8.5"/><line x1="964.7" y1="913.1" x2="964.7" y2="937.8" stroke="#00a6a7" stroke-width="8.5"/><line x1="953.2" y1="844.4" x2="976.2" y2="844.4" stroke="#00a6a7" stroke-width="8.0" stroke-linecap="round"/><line x1="953.2" y1="937.8" x2="976.2" y2="937.8" stroke="#00a6a7" stroke-width="8.0" stroke-linecap="round"/>
<line x1="1295.9" y1="1006.5" x2="1295.9" y2="1009.5" stroke="#00a6a7" stroke-width="8.5"/><line x1="1295.9" y1="1053.5" x2="1295.9" y2="1056.5" stroke="#00a6a7" stroke-width="8.5"/><line x1="1284.4" y1="1006.5" x2="1307.4" y2="1006.5" stroke="#00a6a7" stroke-width="8.0" stroke-linecap="round"/><line x1="1284.4" y1="1056.5" x2="1307.4" y2="1056.5" stroke="#00a6a7" stroke-width="8.0" stroke-linecap="round"/>
<line x1="1627.1" y1="1059.9" x2="1627.1" y2="1071.9" stroke="#00a6a7" stroke-width="8.5"/><line x1="1627.1" y1="1115.9" x2="1627.1" y2="1127.9" stroke="#00a6a7" stroke-width="8.5"/><line x1="1615.6" y1="1059.9" x2="1638.6" y2="1059.9" stroke="#00a6a7" stroke-width="8.0" stroke-linecap="round"/><line x1="1615.6" y1="1127.9" x2="1638.6" y2="1127.9" stroke="#00a6a7" stroke-width="8.0" stroke-linecap="round"/>
<line x1="274" y1="786.8" x2="411.5" y2="786.8" stroke="#3d1f94" stroke-width="9.6" stroke-linecap="round"/>
<polygon points="325.6,772.1 357.0,772.1 357.0,803.5 325.6,803.5" fill="#fff"/><polygon points="325.6,772.1 357.0,772.1 357.0,787.8 325.6,787.8" fill="#3d1f94"/><polygon points="325.6,772.1 357.0,772.1 357.0,803.5 325.6,803.5" fill="none" stroke="#3d1f94" stroke-width="3.2" stroke-linejoin="round"/>
<text transform="translate(426.5,809.0) scale(1,1.020)" font-size="63.0" text-anchor="start">PMS</text>
<line x1="274" y1="865.5" x2="411.5" y2="865.5" stroke="#ea8a00" stroke-width="9.6" stroke-linecap="round"/>
<circle cx="341.3" cy="866.5" r="16" fill="#fff" stroke="none"/><path d="M325.0,866.5 A16,16 0 0 1 357.6,866.5 Z" fill="#ea8a00"/><circle cx="341.3" cy="866.5" r="16" fill="none" stroke="#ea8a00" stroke-width="3.2"/>
<text transform="translate(426.5,887.7) scale(1,1.020)" font-size="63.0" text-anchor="start" letter-spacing="0.55">FCPBA/PAN</text>
<line x1="274" y1="943.0" x2="411.5" y2="943.0" stroke="#a53672" stroke-width="9.6" stroke-linecap="round"/>
<polygon points="341.3,920.7 363.3,955.7 319.3,955.7" fill="#fff"/><polygon points="341.3,920.7 356.0,944.0 326.6,944.0" fill="#a53672"/><polygon points="341.3,920.7 363.3,955.7 319.3,955.7" fill="none" stroke="#a53672" stroke-width="3.2" stroke-linejoin="round"/>
<text transform="translate(426.5,965.2) scale(1,1.020)" font-size="63.0" text-anchor="start" letter-spacing="0.60">PAN + PMS</text>
<line x1="274" y1="1018.2" x2="411.5" y2="1018.2" stroke="#158528" stroke-width="9.6" stroke-linecap="round"/>
<polygon points="321.1,1006.9 361.6,1006.9 341.3,1043.9" fill="#fff"/><polygon points="321.1,1006.9 361.6,1006.9 354.8,1019.2 327.8,1019.2" fill="#158528"/><polygon points="321.1,1006.9 361.6,1006.9 341.3,1043.9" fill="none" stroke="#158528" stroke-width="3.2" stroke-linejoin="round"/>
<text transform="translate(426.5,1040.4) scale(1,1.020)" font-size="63.0" text-anchor="start">0.6FCPBA/PAN + PMS</text>
<line x1="274" y1="1096.5" x2="411.5" y2="1096.5" stroke="#ff4aab" stroke-width="9.6" stroke-linecap="round"/>
<polygon points="341.3,1074.5 359.3,1097.5 341.3,1120.5 323.3,1097.5" fill="#fff"/><polygon points="341.3,1074.5 359.3,1097.5 359.3,1097.5 323.3,1097.5 323.3,1097.5" fill="#ff4aab"/><polygon points="341.3,1074.5 359.3,1097.5 341.3,1120.5 323.3,1097.5" fill="none" stroke="#ff4aab" stroke-width="3.2" stroke-linejoin="round"/>
<text transform="translate(426.5,1118.7) scale(1,1.020)" font-size="63.0" text-anchor="start" letter-spacing="0.18">FCPBA/PAN + PMS</text>
<line x1="274" y1="1171.6" x2="411.5" y2="1171.6" stroke="#00a6a7" stroke-width="9.6" stroke-linecap="round"/>
<polygon points="316.6,1172.6 353.6,1151.6 353.6,1193.6" fill="#fff"/><polygon points="316.6,1172.6 353.6,1151.6 353.6,1172.6 316.6,1172.6" fill="#00a6a7"/><polygon points="316.6,1172.6 353.6,1151.6 353.6,1193.6" fill="none" stroke="#00a6a7" stroke-width="3.2" stroke-linejoin="round"/>
<text transform="translate(426.5,1193.8) scale(1,1.020)" font-size="63.0" text-anchor="start" letter-spacing="0.10">FCPBA + PMS</text>
<text transform="translate(204.5,111.1) scale(1,1.040)" font-size="76.0" text-anchor="end">100</text>
<text transform="translate(204.5,362.2) scale(1,1.040)" font-size="76.0" text-anchor="end">80</text>
<text transform="translate(204.5,615.2) scale(1,1.040)" font-size="76.0" text-anchor="end">60</text>
<text transform="translate(204.5,870.5) scale(1,1.040)" font-size="76.0" text-anchor="end">40</text>
<text transform="translate(204.5,1123.0) scale(1,1.040)" font-size="76.0" text-anchor="end">20</text>
<text transform="translate(300.3,1323.5) scale(1,1.040)" font-size="76.0" text-anchor="middle">0</text>
<text transform="translate(576.3,1323.5) scale(1,1.040)" font-size="76.0" text-anchor="middle">50</text>
<text transform="translate(852.3,1323.5) scale(1,1.040)" font-size="76.0" text-anchor="middle">100</text>
<text transform="translate(1128.3,1323.5) scale(1,1.040)" font-size="76.0" text-anchor="middle">150</text>
<text transform="translate(1404.3,1323.5) scale(1,1.040)" font-size="76.0" text-anchor="middle">200</text>
<text transform="translate(1680.3,1323.5) scale(1,1.040)" font-size="76.0" text-anchor="middle">250</text>
<text transform="translate(801.0,1415.5) scale(1,1.045)" font-size="81.0" text-anchor="start">Time (min)</text>
<text transform="translate(82,803.5) rotate(-90)" font-size="80">C<tspan dy="27" font-size="47">t</tspan><tspan dy="-27">/C</tspan><tspan dy="27" font-size="47">0</tspan><tspan dy="-27"> (%)</tspan></text>
</svg>
</body></html>
